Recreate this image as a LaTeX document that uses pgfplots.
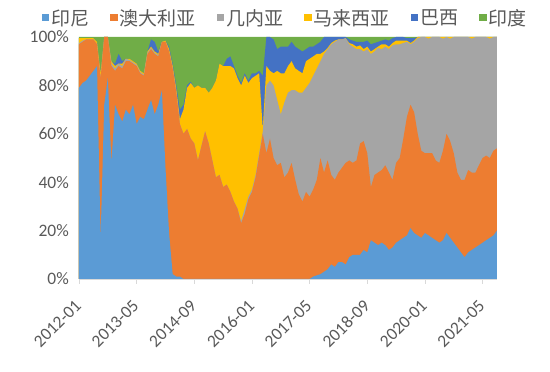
\documentclass[border=0pt]{standalone}
\usepackage{pgfplots}
\pgfplotsset{compat=1.18}
\usepackage{pgfplotstable}
\usepackage{fontspec}
\setmainfont{Carlito}
\newfontfamily\cjk{Noto Sans CJK SC}
\definecolor{c1}{HTML}{5B9BD5}
\definecolor{c2}{HTML}{ED7D31}
\definecolor{c3}{HTML}{A5A5A5}
\definecolor{c4}{HTML}{FFC000}
\definecolor{c5}{HTML}{4472C4}
\definecolor{c6}{HTML}{70AD47}
\definecolor{txt}{HTML}{595959}
\definecolor{axl}{HTML}{D9D9D9}

% cumulative shares (%): B1 = Indonesia, B2 = +Australia, B3 = +Guinea,
% B4 = +Malaysia, B5 = +Brazil, B6 = +India (=100)
\pgfplotstableread{
m B1 B2 B3 B4 B5 B6
0 79 97 97.5 99.5 99.5 100
1 81 98 98.5 99.5 99.5 100
2 82 99 99 99.5 99.5 100
3 84 99 99 99.5 99.5 100
4 86 99 99 99.5 99.5 100
5 88 97 97 98 98 100
6 17 83 83 85 85 100
7 72 100 100 100 100 100
8 83 100 100 100 100 100
9 48 88 89 90 90 100
10 72 86 87 88 89 100
11 68 88 89 89 93 100
12 65 87 88 89 90 100
13 70 90 91 91 91 100
14 68 90 90.5 91 91 100
15 72 89 89.5 90 90 100
16 64 88 88.5 89 89 100
17 67 85 85.5 86 86 100
18 66 84 84.5 85 85 100
19 70 93 93.5 94 94 100
20 74 95 95.5 96 99 100
21 68 93 93.5 94 98 100
22 72 92 92.5 93 94 100
23 78 98 98 98 98 100
24 46 98 98 98.5 98.5 100
25 19 94 94 95 96 100
26 2 87 87 88 89 100
27 1 77 77 78.5 80 100
28 1 64 64 66 70 100
29 0 60 60 70 72 100
30 0 62 62 79 80 100
31 0 58 58 81 81.5 100
32 0 56 56 79 79 100
33 0 49 49 80 80 100
34 0 55 55 79 79 100
35 0 61 61 79 79 100
36 0 56 56 77 77 100
37 0 49 49 79 79 100
38 0 42 42 82 82 100
39 0 43 43 89 89 100
40 0 38 38 88 88 100
41 0 39 39 88 91 100
42 0 36 36 88 92 100
43 0 32 32 87 88 100
44 0 29 29 83 84 100
45 0 23 24 80 81 100
46 0 27 29 84 85 100
47 0 33 34 81 82 100
48 0 36 37 83 85 100
49 0 42 43 84 85 100
50 0 51 52 85 86 100
51 0 60 61 62 84 100
52 0 52 80 88 100 100
53 0 58 82 86 100 100
54 0 50 80 85 99 100
55 0 47 74 86 95 100
56 0 48 68 85 96 100
57 0 42 73 85 96 100
58 0 44 77 88 96 100
59 0 48 78 90 98 100
60 0 41 78 87 96 100
61 0 35 77 86 95 100
62 0 32 77 85 94 100
63 0 36 79 90 95 100
64 0 34 81 91 96 100
65 1 37 84 92 96 100
66 1.5 41 87 93 97 100
67 2 50 90 93 98 100
68 3 44 93 94 100 100
69 4 49 95 95.5 100 100
70 6 43 97 97.5 100 100
71 5 41 98 98.5 100 100
72 7 44 99 99 100 100
73 7 46 99 99 100 100
74 6 48 99.5 99.5 100 100
75 9 49 97 97.5 99 100
76 10 48 96 97 98.5 100
77 10 49 95 96 98 100
78 10 56 95 96.5 98 100
79 12 57 94 95 98 100
80 11 52 95 96 98.5 100
81 16 38 93 94 97 100
82 15 43 94 95 97.5 100
83 14 44 95.5 96 98 100
84 15 45 95 97 98.5 100
85 14 47 96 97 99 100
86 12 44 95 96 98.5 100
87 13 41 96.5 97.5 99.5 100
88 15 48 97 98.5 100 100
89 16 50 97 98.5 100 100
90 17 58 97.5 98.5 100 100
91 18 67 98 98.5 99.5 100
92 21 72 97 97.5 99.5 100
93 19 69 98 98.5 99.5 100
94 18 60 99.5 100 100 100
95 17 53 100 100 100 100
96 19 52 100 100 100 100
97 18 52 99.3 100 100 100
98 17 52 100 100 100 100
99 16 49 100 100 100 100
100 15 48 100 100 100 100
101 16 53 99.3 100 100 100
102 19 60 100 100 100 100
103 17 57 99.3 100 100 100
104 15 52 100 100 100 100
105 13 44 100 100 100 100
106 11 41 100 100 100 100
107 9 41 100 100 100 100
108 11 45 100 100 100 100
109 12 44 99.3 100 100 100
110 13 44 100 100 100 100
111 14 47 100 100 100 100
112 15 50 100 100 100 100
113 16 51 100 100 100 100
114 17 50 99.3 100 100 100
115 18 53 100 100 100 100
116 20 54 100 100 100 100
}\data

\begin{document}
\begin{tikzpicture}
\useasboundingbox (-79pt,-93pt) rectangle (471pt,279pt);
\begin{axis}[
  at={(0pt,0pt)}, anchor=south west,
  scale only axis, width=418pt, height=242pt,
  xmin=0, xmax=116, ymin=0, ymax=100,
  axis x line*=bottom, axis y line*=left,
  x axis line style={axl, line width=0.8pt, -},
  y axis line style={draw=none},
  xtick={0,16,32,48,64,80,96,112},
  xticklabels={2012-01,2013-05,2014-09,2016-01,2017-05,2018-09,2020-01,2021-05},
  ytick={0,20,40,60,80,100},
  yticklabel={\pgfmathprintnumber{\tick}\%},
  /pgf/number format/assume math mode=true,
  tick align=outside,
  x tick style={axl, line width=0.8pt},
  major tick length=5pt,
  y tick style={draw=none},
  ticklabel style={font=\fontsize{17.5}{20}\selectfont, text=txt},
  xticklabel style={rotate=45, anchor=north east, inner sep=1pt, xshift=-12.7pt, yshift=-5.7pt},
  yticklabel style={inner sep=1pt, xshift=-4pt},
  legend columns=6,
  legend image code/.code={\fill[#1] (0pt,-3.5pt) rectangle (7.5pt,4pt);},
  legend style={draw=none, fill=none, at={(axis description cs:0.493,1)}, anchor=center, yshift=19pt,
    font=\cjk\fontsize{19}{21}\selectfont, text=txt, inner sep=0pt,
    /tikz/every even column/.append style={column sep=19pt},
    /tikz/every odd column/.append style={column sep=0pt}},
  legend cell align=left,
]
\addlegendimage{fill=c1, draw=none}\addlegendentry{印尼}
\addlegendimage{fill=c2, draw=none}\addlegendentry{澳大利亚}
\addlegendimage{fill=c3, draw=none}\addlegendentry{几内亚}
\addlegendimage{fill=c4, draw=none}\addlegendentry{马来西亚}
\addlegendimage{fill=c5, draw=none}\addlegendentry{巴西}
\addlegendimage{fill=c6, draw=none}\addlegendentry{印度}
\addplot[fill=c6, draw=none, forget plot] table[x=m, y=B6] {\data} \closedcycle;
\addplot[fill=c5, draw=none, forget plot] table[x=m, y=B5] {\data} \closedcycle;
\addplot[fill=c4, draw=none, forget plot] table[x=m, y=B4] {\data} \closedcycle;
\addplot[fill=c3, draw=none, forget plot] table[x=m, y=B3] {\data} \closedcycle;
\addplot[fill=c2, draw=none, forget plot] table[x=m, y=B2] {\data} \closedcycle;
\addplot[fill=c1, draw=none, forget plot] table[x=m, y=B1] {\data} \closedcycle;
\end{axis}
\end{tikzpicture}
\end{document}
